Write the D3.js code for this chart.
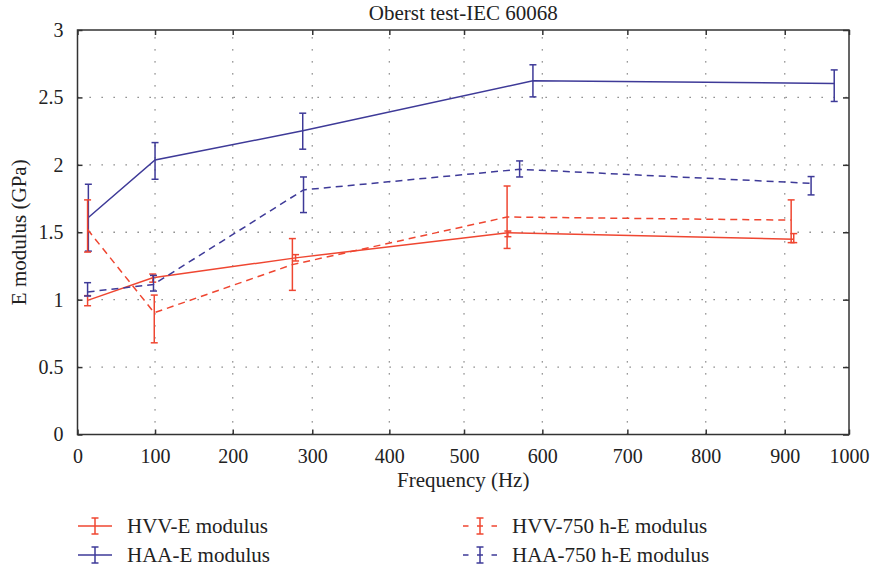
<!DOCTYPE html>
<html>
<head>
<meta charset="utf-8">
<script src="https://cdn.jsdelivr.net/npm/d3@7"></script>
<style>
  body { margin: 0; background: #fff; }
</style>
</head>
<body>
<div id="chart"></div>
<script>
// values
var xTicks = [0, 100, 200, 300, 400, 500, 600, 700, 800, 900, 1000]
var yTicks = [0, 0.5, 1, 1.5, 2, 2.5, 3]
var yTickLabels = ['0', '0.5', '1', '1.5', '2', '2.5', '3']

var hvvFreq = [13, 97, 279, 556, 914]
var hvvE = [0.995, 1.163, 1.31, 1.497, 1.448]
var hvvLow = [0.955, 1.13, 1.287, 1.467, 1.423]
var hvvHigh = [1.03, 1.19, 1.334, 1.509, 1.49]

var haaFreq = [14, 100, 288, 588, 977]
var haaE = [1.609, 2.036, 2.252, 2.623, 2.604]
var haaLow = [1.36, 1.893, 2.116, 2.504, 2.47]
var haaHigh = [1.856, 2.165, 2.383, 2.742, 2.704]

var hvv750Freq = [13, 99, 275, 555, 910]
var hvv750E = [1.52, 0.903, 1.26, 1.613, 1.59]
var hvv750Low = [1.353, 0.68, 1.069, 1.38, 1.423]
var hvv750High = [1.74, 1.034, 1.453, 1.843, 1.74]

var haa750Freq = [13, 98, 289, 571, 941]
var haa750E = [1.057, 1.113, 1.814, 1.967, 1.863]
var haa750Low = [1.027, 1.064, 1.646, 1.91, 1.777]
var haa750High = [1.126, 1.18, 1.91, 2.029, 1.913]

var red = '#ef4631', blue = '#3e3a98'
var font = '"Liberation Serif", "DejaVu Serif", "Times New Roman", serif'

var series = [
  {name: 'HVV-E modulus', color: red, dash: null, f: hvvFreq, v: hvvE, lo: hvvLow, hi: hvvHigh},
  {name: 'HAA-E modulus', color: blue, dash: null, f: haaFreq, v: haaE, lo: haaLow, hi: haaHigh},
  {name: 'HVV-750 h-E modulus', color: red, dash: '7,5', f: hvv750Freq, v: hvv750E, lo: hvv750Low, hi: hvv750High},
  {name: 'HAA-750 h-E modulus', color: blue, dash: '7,5', f: haa750Freq, v: haa750E, lo: haa750Low, hi: haa750High}
]

var width = 871, height = 569
var margin = {top: 30, right: 22, bottom: 134.5, left: 77.5}
var plotW = width - margin.left - margin.right
var plotH = height - margin.top - margin.bottom

var svg = d3.select('#chart')
  .append('svg')
  .attr('width', width)
  .attr('height', height)
  .attr('font-family', font)

var g = svg.append('g')
  .attr('transform', 'translate(' + margin.left + ',' + margin.top + ')')

// the original x axis is not evenly spaced, so the scale is piecewise
var tickFrac = [0, 0.1005, 0.2012, 0.3043, 0.4042, 0.5010, 0.6025, 0.7127, 0.8143, 0.9167, 1]
var x = d3.scaleLinear()
  .domain(xTicks)
  .range(tickFrac.map(function(t) { return t * plotW }))

var y = d3.scaleLinear()
  .domain([0, 3])
  .range([plotH, 0])

// dotted grid
g.append('g')
  .selectAll('line')
  .data(xTicks.slice(1, -1))
  .enter().append('line')
  .attr('x1', function(d) { return x(d) })
  .attr('x2', function(d) { return x(d) })
  .attr('y1', plotH)
  .attr('y2', 0)
  .attr('stroke', '#777')
  .attr('stroke-width', 1.3)
  .attr('stroke-dasharray', '1.3,10.7')

g.append('g')
  .selectAll('line')
  .data(yTicks.slice(1, -1))
  .enter().append('line')
  .attr('x1', 0)
  .attr('x2', plotW)
  .attr('y1', function(d) { return y(d) })
  .attr('y2', function(d) { return y(d) })
  .attr('stroke', '#777')
  .attr('stroke-width', 1.3)
  .attr('stroke-dasharray', '1.3,10.7')

// axes, ticks pointing inwards on all four sides
function styleAxis(sel) {
  sel.attr('font-family', font)
  sel.select('.domain').remove()
  sel.selectAll('.tick line').attr('stroke', '#333').attr('stroke-width', 1.5)
  sel.selectAll('text').attr('font-size', 20).attr('fill', '#222')
}

g.append('g')
  .attr('transform', 'translate(0,' + plotH + ')')
  .call(d3.axisBottom(x).tickValues(xTicks).tickFormat(d3.format('d')).tickSizeInner(-5).tickPadding(14))
  .call(styleAxis)

g.append('g')
  .call(d3.axisTop(x).tickValues(xTicks).tickSizeInner(-5).tickFormat(''))
  .call(styleAxis)

g.append('g')
  .call(d3.axisLeft(y).tickValues(yTicks).tickFormat(function(d, i) { return yTickLabels[i] }).tickSizeInner(-5).tickPadding(14))
  .call(styleAxis)

g.append('g')
  .attr('transform', 'translate(' + plotW + ',0)')
  .call(d3.axisRight(y).tickValues(yTicks).tickSizeInner(-6).tickFormat(''))
  .call(styleAxis)

g.append('rect')
  .attr('width', plotW)
  .attr('height', plotH)
  .attr('fill', 'none')
  .attr('stroke', '#333')
  .attr('stroke-width', 1.5)

// lines and error bars
var line = d3.line()
  .x(function(d) { return x(d.f) })
  .y(function(d) { return y(d.v) })

series.forEach(function(s) {
  var pts = s.f.map(function(f, i) { return {f: f, v: s.v[i], lo: s.lo[i], hi: s.hi[i]} })
  var sg = g.append('g')

  sg.append('path')
    .datum(pts)
    .attr('fill', 'none')
    .attr('stroke', s.color)
    .attr('stroke-width', 1.5)
    .attr('stroke-dasharray', s.dash)
    .attr('d', line)

  var eb = sg.selectAll('.eb')
    .data(pts)
    .enter().append('g')
    .attr('stroke', s.color)
    .attr('stroke-width', 1.5)

  eb.append('line')
    .attr('x1', function(d) { return x(d.f) })
    .attr('x2', function(d) { return x(d.f) })
    .attr('y1', function(d) { return y(d.lo) })
    .attr('y2', function(d) { return y(d.hi) })
  eb.append('line')
    .attr('x1', function(d) { return x(d.f) - 3.5 })
    .attr('x2', function(d) { return x(d.f) + 3.5 })
    .attr('y1', function(d) { return y(d.lo) })
    .attr('y2', function(d) { return y(d.lo) })
  eb.append('line')
    .attr('x1', function(d) { return x(d.f) - 3.5 })
    .attr('x2', function(d) { return x(d.f) + 3.5 })
    .attr('y1', function(d) { return y(d.hi) })
    .attr('y2', function(d) { return y(d.hi) })
})

// title and axis labels
svg.append('text')
  .attr('x', margin.left + plotW / 2)
  .attr('y', 20)
  .attr('text-anchor', 'middle')
  .attr('font-size', 21)
  .attr('fill', '#222')
  .text('Oberst test-IEC 60068')

svg.append('text')
  .attr('x', margin.left + plotW / 2)
  .attr('y', 487)
  .attr('text-anchor', 'middle')
  .attr('font-size', 21)
  .attr('fill', '#222')
  .text('Frequency (Hz)')

svg.append('text')
  .attr('transform', 'translate(26,' + (margin.top + plotH / 2) + ')rotate(-90)')
  .attr('text-anchor', 'middle')
  .attr('font-size', 21)
  .attr('fill', '#222')
  .text('E modulus (GPa)')

// legend, two columns
var legend = svg.append('g')
var legPos = [[78, 526], [78, 555], [463, 526], [463, 555]]

series.forEach(function(s, i) {
  var lx = legPos[i][0], ly = legPos[i][1]
  var lg = legend.append('g').attr('transform', 'translate(' + lx + ',' + ly + ')')
  lg.append('line')
    .attr('x1', 0).attr('x2', 34).attr('y1', 0).attr('y2', 0)
    .attr('stroke', s.color).attr('stroke-width', 1.5)
    .attr('stroke-dasharray', s.dash ? '5.5,8.5,6,8.5,5.5' : null)
  var ebl = lg.append('g').attr('stroke', s.color).attr('stroke-width', 1.5)
  ebl.append('line').attr('x1', 17).attr('x2', 17).attr('y1', -8).attr('y2', 8)
  ebl.append('line').attr('x1', 13.5).attr('x2', 20.5).attr('y1', -8).attr('y2', -8)
  ebl.append('line').attr('x1', 13.5).attr('x2', 20.5).attr('y1', 8).attr('y2', 8)
  lg.append('text')
    .attr('x', 49)
    .attr('y', 0)
    .attr('dy', '0.35em')
    .attr('font-size', 21)
    .attr('fill', '#222')
    .text(s.name)
})
</script>
</body>
</html>
